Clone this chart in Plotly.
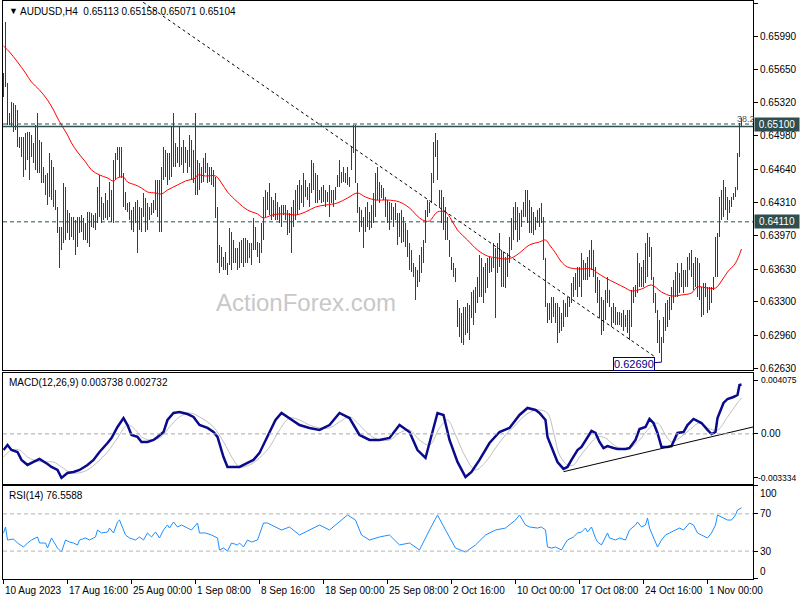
import plotly.graph_objects as go

# ---------------- data ----------------
bar_high = [
0.6562,0.6613,0.6552,0.6521,0.6532,0.6531,0.6529,0.6524,0.6497,0.6497,
0.6497,0.6501,0.6502,0.6502,0.6499,0.6491,0.6509,0.6521,0.6494,0.6492,
0.6467,0.6458,0.6460,0.6481,0.6474,0.6467,0.6443,0.6426,0.6406,0.6406,
0.6450,0.6446,0.6423,0.6420,0.6416,0.6416,0.6413,0.6416,0.6416,0.6418,
0.6415,0.6410,0.6421,0.6421,0.6420,0.6418,0.6420,0.6446,0.6458,0.6436,
0.6430,0.6440,0.6433,0.6451,0.6443,0.6474,0.6481,0.6487,0.6487,0.6487,
0.6460,0.6441,0.6430,0.6431,0.6423,0.6426,0.6431,0.6433,0.6426,0.6425,
0.6440,0.6435,0.6430,0.6426,0.6430,0.6433,0.6453,0.6453,0.6453,0.6467,
0.6487,0.6484,0.6481,0.6481,0.6507,0.6521,0.6491,0.6487,0.6507,0.6487,
0.6494,0.6487,0.6484,0.6499,0.6494,0.6484,0.6521,0.6474,0.6471,0.6467,
0.6476,0.6481,0.6471,0.6466,0.6466,0.6463,0.6456,0.6426,0.6388,0.6386,
0.6375,0.6380,0.6369,0.6405,0.6401,0.6393,0.6385,0.6385,0.6391,0.6393,
0.6395,0.6395,0.6393,0.6390,0.6390,0.6415,0.6406,0.6391,0.6390,0.6410,
0.6436,0.6443,0.6441,0.6450,0.6436,0.6433,0.6440,0.6431,0.6426,0.6428,
0.6428,0.6428,0.6423,0.6420,0.6426,0.6433,0.6443,0.6448,0.6453,0.6448,
0.6460,0.6453,0.6446,0.6450,0.6474,0.6471,0.6460,0.6458,0.6443,0.6446,
0.6448,0.6443,0.6441,0.6448,0.6443,0.6443,0.6446,0.6458,0.6474,0.6461,
0.6466,0.6460,0.6466,0.6456,0.6487,0.6509,0.6509,0.6450,0.6426,0.6423,
0.6416,0.6426,0.6431,0.6421,0.6428,0.6440,0.6460,0.6466,0.6451,0.6448,
0.6445,0.6436,0.6433,0.6431,0.6430,0.6426,0.6430,0.6420,0.6420,0.6423,
0.6416,0.6410,0.6403,0.6390,0.6382,0.6369,0.6365,0.6362,0.6377,0.6386,
0.6393,0.6423,0.6433,0.6431,0.6460,0.6492,0.6501,0.6494,0.6443,0.6443,
0.6436,0.6426,0.6416,0.6393,0.6375,0.6369,0.6364,0.6332,0.6324,0.6319,
0.6325,0.6325,0.6329,0.6327,0.6340,0.6342,0.6345,0.6355,0.6377,0.6374,
0.6365,0.6369,0.6374,0.6375,0.6374,0.6390,0.6385,0.6390,0.6400,0.6382,
0.6380,0.6375,0.6379,0.6396,0.6415,0.6426,0.6431,0.6426,0.6420,0.6423,
0.6431,0.6443,0.6443,0.6433,0.6426,0.6421,0.6416,0.6423,0.6425,0.6430,
0.6416,0.6374,0.6329,0.6329,0.6335,0.6335,0.6329,0.6329,0.6325,0.6319,
0.6332,0.6329,0.6335,0.6335,0.6349,0.6355,0.6359,0.6365,0.6365,0.6379,
0.6372,0.6369,0.6375,0.6382,0.6393,0.6382,0.6365,0.6355,0.6352,0.6335,
0.6332,0.6342,0.6355,0.6342,0.6325,0.6329,0.6325,0.6320,0.6320,0.6319,
0.6322,0.6317,0.6322,0.6322,0.6342,0.6345,0.6347,0.6379,0.6369,0.6365,
0.6372,0.6390,0.6400,0.6396,0.6386,0.6355,0.6339,0.6322,0.6312,0.6294,
0.6315,0.6329,0.6332,0.6335,0.6345,0.6352,0.6360,0.6369,0.6359,0.6369,
0.6362,0.6362,0.6375,0.6379,0.6382,0.6369,0.6375,0.6374,0.6369,0.6345,
0.6349,0.6349,0.6345,0.6345,0.6345,0.6355,0.6396,0.6400,0.6436,0.6443,
0.6453,0.6446,0.6436,0.6433,0.6436,0.6440,0.6446,0.6481,0.6511,0.6516,
]
bar_low = [
0.6537,0.6547,0.6509,0.6509,0.6507,0.6502,0.6504,0.6487,0.6486,0.6477,
0.6456,0.6463,0.6474,0.6453,0.6477,0.6471,0.6463,0.6460,0.6460,0.6450,
0.6450,0.6438,0.6428,0.6436,0.6433,0.6426,0.6423,0.6400,0.6364,0.6382,
0.6390,0.6393,0.6400,0.6393,0.6396,0.6393,0.6377,0.6386,0.6400,0.6401,
0.6393,0.6393,0.6390,0.6386,0.6406,0.6405,0.6403,0.6410,0.6416,0.6410,
0.6413,0.6415,0.6413,0.6416,0.6411,0.6410,0.6453,0.6474,0.6456,0.6455,
0.6426,0.6423,0.6421,0.6413,0.6403,0.6401,0.6410,0.6379,0.6403,0.6401,
0.6416,0.6401,0.6403,0.6413,0.6418,0.6420,0.6423,0.6416,0.6401,0.6401,
0.6453,0.6456,0.6448,0.6453,0.6456,0.6467,0.6467,0.6471,0.6467,0.6469,
0.6460,0.6471,0.6460,0.6467,0.6453,0.6450,0.6438,0.6438,0.6443,0.6450,
0.6451,0.6460,0.6450,0.6451,0.6448,0.6446,0.6415,0.6369,0.6359,0.6365,
0.6362,0.6362,0.6357,0.6367,0.6362,0.6369,0.6369,0.6362,0.6364,0.6369,
0.6365,0.6369,0.6369,0.6374,0.6367,0.6382,0.6382,0.6375,0.6369,0.6379,
0.6393,0.6416,0.6423,0.6418,0.6413,0.6416,0.6413,0.6413,0.6410,0.6406,
0.6418,0.6413,0.6398,0.6400,0.6379,0.6406,0.6413,0.6418,0.6423,0.6430,
0.6426,0.6436,0.6433,0.6426,0.6440,0.6443,0.6430,0.6430,0.6433,0.6430,
0.6431,0.6426,0.6431,0.6416,0.6430,0.6426,0.6433,0.6446,0.6446,0.6450,
0.6451,0.6450,0.6448,0.6446,0.6463,0.6481,0.6450,0.6420,0.6401,0.6406,
0.6385,0.6401,0.6406,0.6403,0.6405,0.6410,0.6416,0.6433,0.6430,0.6435,
0.6433,0.6416,0.6410,0.6403,0.6413,0.6406,0.6413,0.6388,0.6396,0.6390,
0.6391,0.6386,0.6375,0.6362,0.6360,0.6355,0.6332,0.6345,0.6350,0.6359,
0.6369,0.6390,0.6416,0.6420,0.6430,0.6450,0.6477,0.6453,0.6426,0.6410,
0.6403,0.6393,0.6393,0.6375,0.6362,0.6355,0.6350,0.6305,0.6294,0.6288,
0.6286,0.6296,0.6299,0.6291,0.6314,0.6307,0.6319,0.6329,0.6335,0.6335,
0.6329,0.6339,0.6344,0.6359,0.6360,0.6364,0.6314,0.6359,0.6365,0.6345,
0.6345,0.6344,0.6355,0.6369,0.6382,0.6393,0.6403,0.6391,0.6393,0.6406,
0.6416,0.6416,0.6410,0.6400,0.6400,0.6398,0.6403,0.6410,0.6406,0.6410,
0.6372,0.6325,0.6309,0.6312,0.6309,0.6315,0.6309,0.6288,0.6298,0.6301,
0.6305,0.6315,0.6315,0.6325,0.6329,0.6335,0.6342,0.6335,0.6345,0.6335,
0.6352,0.6352,0.6352,0.6355,0.6362,0.6355,0.6339,0.6329,0.6314,0.6296,
0.6301,0.6312,0.6329,0.6325,0.6305,0.6309,0.6307,0.6307,0.6307,0.6305,
0.6301,0.6305,0.6298,0.6291,0.6305,0.6329,0.6335,0.6339,0.6345,0.6345,
0.6345,0.6349,0.6355,0.6375,0.6352,0.6329,0.6319,0.6288,0.6278,0.6269,
0.6288,0.6301,0.6305,0.6312,0.6322,0.6329,0.6335,0.6335,0.6339,0.6345,
0.6339,0.6345,0.6345,0.6362,0.6355,0.6342,0.6345,0.6335,0.6332,0.6315,
0.6317,0.6335,0.6319,0.6322,0.6329,0.6342,0.6355,0.6355,0.6396,0.6413,
0.6416,0.6423,0.6413,0.6420,0.6426,0.6433,0.6436,0.6443,0.6477,0.6507,
]

ma_idx = [0,3,7,11,14,18,22,25,27,29,32,34,37,41,44,48,52,55,57,60,62,66,69,72,76,79,82,87,91,96,
          97,101,106,109,112,117,122,127,130,133,137,142,146,151,156,161,167,172,177,181,186,192,198,203,208,
          211,213,217,221,224,227,232,237,242,247,252,255,258,263,268,271,273,276,279,282,287,294,297,301,306,
          311,314,319,324,329,334,339,344,347,352,356,359,362,366,369]
ma_val = [0.65890,0.65829,0.65728,0.65616,0.65525,0.65444,0.65343,0.65242,0.65161,0.65090,0.64989,0.64908,
          0.64817,0.64716,0.64635,0.64584,0.64554,0.64523,0.64554,0.64564,0.64513,0.64483,0.64452,0.64412,
          0.64402,0.64392,0.64432,0.64483,0.64523,0.64554,0.64584,0.64574,0.64574,0.64503,0.64412,0.64311,
          0.64230,0.64189,0.64149,0.64169,0.64189,0.64189,0.64179,0.64210,0.64260,0.64280,0.64301,0.64351,
          0.64402,0.64361,0.64331,0.64331,0.64311,0.64250,0.64149,0.64118,0.64118,0.64210,0.64210,0.64129,
          0.64027,0.63926,0.63825,0.63764,0.63744,0.63734,0.63754,0.63795,0.63876,0.63906,0.63926,0.63876,
          0.63795,0.63704,0.63653,0.63633,0.63633,0.63592,0.63542,0.63491,0.63440,0.63410,0.63430,0.63471,
          0.63400,0.63360,0.63370,0.63390,0.63451,0.63440,0.63440,0.63511,0.63602,0.63693,0.63835]

macd_idx = [0,2,4,7,9,12,15,18,22,24,27,29,32,35,38,42,45,48,52,54,57,60,62,64,67,69,72,75,77,80,
            82,85,88,92,95,98,102,105,107,110,112,115,118,122,125,128,132,133,136,139,143,148,153,158,163,
            168,173,178,183,188,193,198,203,207,211,214,217,220,223,227,231,234,238,243,248,253,258,262,266,268,
            271,272,275,277,280,282,284,287,289,292,294,296,298,300,302,305,307,311,313,316,318,321,323,325,327,
            329,332,334,336,337,340,342,345,347,349,352,354,356,357,360,362,365,367,368,369]
macd_val = [-0.00122,-0.00084,-0.00122,-0.00137,-0.00197,-0.00235,-0.00212,-0.00190,-0.00228,-0.00250,
            -0.00273,-0.00333,-0.00296,-0.00288,-0.00273,-0.00235,-0.00197,-0.00137,-0.00069,-0.00031,
            0.00052,0.00120,0.00067,-0.00008,-0.00023,-0.00061,-0.00061,-0.00046,-0.00023,0.00014,
            0.00105,0.00158,0.00166,0.00150,0.00128,0.00067,0.00045,0.00014,-0.00023,-0.00175,
            -0.00250,-0.00250,-0.00250,-0.00220,-0.00197,-0.00144,-0.00023,0.00014,0.00105,0.00158,
            0.00120,0.00067,0.00045,0.00030,0.00067,0.00158,0.00120,-0.00008,-0.00046,-0.00046,
            -0.00031,0.00067,0.00014,-0.00122,-0.00182,-0.00008,0.00158,0.00143,-0.00046,-0.00212,
            -0.00326,-0.00288,-0.00197,-0.00069,0.00014,0.00045,0.00143,0.00196,0.00181,0.00158,
            0.00105,-0.00023,-0.00144,-0.00213,-0.00265,-0.00250,-0.00197,-0.00122,-0.00099,-0.00031,
            0.00022,0.00007,-0.00061,-0.00107,-0.00092,-0.00107,-0.00114,-0.00114,-0.00107,-0.00046,
            0.00037,0.00052,0.00113,0.00082,0.00007,-0.00099,-0.00099,-0.00092,-0.00031,0.00007,
            0.00014,0.00067,0.00113,0.00098,0.00082,0.00030,-0.00001,0.00014,0.00120,0.00234,
            0.00264,0.00279,0.00294,0.00370,0.003738]

signal_idx = [0,4,8,12,15,20,25,29,33,37,42,47,52,57,62,66,69,73,78,83,88,93,98,105,110,115,118,123,128,133,
              138,143,148,153,158,163,168,173,178,183,188,193,198,203,208,213,218,222,226,231,236,241,246,251,256,
              261,266,268,272,275,278,282,285,288,292,297,301,304,308,313,318,323,327,331,334,338,343,348,352,357,
              362,367,369]
signal_val = [-0.00175,-0.00122,-0.00122,-0.00175,-0.00197,-0.00213,-0.00213,-0.00250,-0.00288,-0.00296,
              -0.00273,-0.00213,-0.00137,-0.00031,0.00067,0.00030,-0.00023,-0.00046,-0.00031,0.00052,
              0.00128,0.00158,0.00128,0.00052,-0.00061,-0.00197,-0.00250,-0.00235,-0.00182,-0.00099,
              0.00029,0.00120,0.00105,0.00067,0.00045,0.00045,0.00090,0.00128,0.00067,-0.00008,
              -0.00046,-0.00046,0.00007,0.00030,-0.00046,-0.00084,0.00045,0.00105,-0.00008,-0.00175,
              -0.00273,-0.00213,-0.00107,-0.00008,0.00067,0.00143,0.00181,0.00181,0.00158,0.00014,
              -0.00160,-0.00235,-0.00235,-0.00175,-0.00099,-0.00023,-0.00031,-0.00069,-0.00107,-0.00107,
              -0.00046,0.00045,0.00082,-0.00008,-0.00061,-0.00031,0.00029,0.00082,0.00045,0.00029,
              0.00128,0.00234,0.002732]

rsi_idx = [0,1,2,5,7,10,12,14,17,18,21,22,24,26,27,29,31,33,35,37,38,41,43,46,47,49,52,53,55,57,
           58,59,61,63,66,68,70,72,74,76,78,80,82,83,85,87,89,92,94,97,98,101,104,107,108,110,112,114,117,118,
           120,122,124,127,128,130,132,136,139,143,148,153,158,163,168,172,176,179,183,188,193,198,203,208,213,
           217,221,226,231,236,241,246,251,256,258,261,263,267,269,271,272,274,276,277,279,281,282,285,287,289,
           291,292,294,296,297,299,302,303,306,308,311,313,316,317,319,321,322,323,326,327,329,331,333,336,338,
           340,342,343,345,347,349,352,354,356,357,359,362,364,366,367,369]
rsi_val = [49.5,55.9,41.9,43.0,38.7,34.4,38.7,41.9,45.2,38.7,38.7,33.3,44.1,36.6,33.3,29.0,41.9,39.8,38.7,36.6,
           41.9,44.1,41.9,45.2,52.7,49.5,50.5,54.8,49.5,61.3,63.4,58.1,47.3,44.1,41.9,45.2,41.9,49.5,45.2,50.5,
           44.1,52.7,58.1,54.8,61.3,55.9,58.1,54.8,52.7,60.2,49.5,49.5,47.3,44.1,31.2,33.3,30.1,38.7,36.6,38.7,
           34.4,41.9,39.8,41.9,47.3,60.2,60.2,55.9,52.7,55.9,47.3,52.7,58.1,52.7,61.3,68.8,63.4,47.3,41.9,45.2,
           47.3,36.6,38.7,31.2,52.7,68.8,52.7,33.3,29.0,36.6,47.3,52.7,54.8,63.4,68.8,58.1,55.9,54.8,55.9,52.7,
           34.4,33.3,34.4,33.3,31.2,38.7,41.9,45.2,49.5,50.5,54.8,50.5,55.9,44.1,39.8,36.6,49.5,44.1,41.9,44.1,
           41.9,52.7,58.1,61.3,55.9,58.1,65.6,54.8,39.8,34.4,41.9,47.3,49.5,52.7,54.8,52.7,58.1,60.2,58.1,49.5,
           47.3,44.1,49.5,58.1,68.8,66.7,63.4,63.4,68.8,74.2,76.56]

xtick_idx = [0, 32, 64, 96, 128, 160, 192, 224, 256, 288, 320, 352]
xtick_labels = ["10 Aug 2023", "17 Aug 16:00", "25 Aug 00:00", "1 Sep 08:00", "8 Sep 16:00",
                "18 Sep 00:00", "25 Sep 08:00", "2 Oct 16:00", "10 Oct 00:00", "17 Oct 08:00",
                "24 Oct 16:00", "1 Nov 00:00"]
price_ticks = [0.6263, 0.6296, 0.6330, 0.6363, 0.6397, 0.6431, 0.6464, 0.6498, 0.6532, 0.6565, 0.6599, 0.6632]
macd_ticks = [-0.003334, 0.0, 0.004075]
macd_tick_text = ["-0.003334", "0.00", "0.004075"]
rsi_levels = [30, 70]

resistance = 0.6510
resistance_line2 = 0.65075
support = 0.6411
low_price = 0.6269
low_index = 329
trend_main_x = [60, 326]
trend_main_y = [0.6647, 0.6274]
trend_macd_x = [280, 375]
trend_macd_y = [-0.00286, 0.00053]

title_text = "AUDUSD,H4  0.65113 0.65158 0.65071 0.65104"
macd_text = "MACD(12,26,9) 0.003738 0.002732"
rsi_text = "RSI(14) 76.5588"

# ---------------- figure ----------------
FONT = "Liberation Sans, Arial, sans-serif"
BAR_COLOR = "#134763"
n = len(bar_high)
bar_idx = list(range(n))
bar_span = [h - l for h, l in zip(bar_high, bar_low)]

fig = go.Figure()
fig.add_trace(go.Bar(x=bar_idx, y=bar_span, base=bar_low, width=0.42,
                     marker=dict(color=BAR_COLOR, line=dict(width=0)),
                     xaxis="x", yaxis="y", hoverinfo="skip"))
fig.add_trace(go.Scatter(x=ma_idx, y=ma_val, mode="lines", line=dict(color="#ff0000", width=1, shape="spline"),
                         xaxis="x", yaxis="y", hoverinfo="skip"))
fig.add_trace(go.Scatter(x=trend_main_x, y=trend_main_y, mode="lines",
                         line=dict(color="black", width=1, dash="3px,3px"),
                         xaxis="x", yaxis="y", hoverinfo="skip"))

fig.add_trace(go.Scatter(x=signal_idx, y=signal_val, mode="lines", line=dict(color="#c0c0c0", width=1, shape="spline"),
                         xaxis="x2", yaxis="y2", hoverinfo="skip"))
fig.add_trace(go.Scatter(x=macd_idx, y=macd_val, mode="lines", line=dict(color="#0a0a8c", width=2.5),
                         xaxis="x2", yaxis="y2", hoverinfo="skip"))
fig.add_trace(go.Scatter(x=trend_macd_x, y=trend_macd_y, mode="lines", line=dict(color="black", width=1),
                         xaxis="x2", yaxis="y2", hoverinfo="skip"))

fig.add_trace(go.Scatter(x=rsi_idx, y=rsi_val, mode="lines", line=dict(color="#1e90ff", width=1),
                         xaxis="x3", yaxis="y3", hoverinfo="skip"))

xr = [-0.25, 374.75]
axis_common = dict(showline=True, mirror=True, linecolor="black", linewidth=1, showgrid=False, zeroline=False,
                   automargin=False)
TF = dict(size=10, color="black")
fig.update_layout(
    width=800, height=600,
    margin=dict(l=3, r=47, t=1, b=21, autoexpand=False),
    paper_bgcolor="white", plot_bgcolor="white",
    showlegend=False, hovermode=False, bargap=0,
    font=dict(family=FONT, size=10, color="black"),
    xaxis=dict(domain=[0, 1], range=xr, anchor="y", showticklabels=False, ticks="", **axis_common),
    xaxis2=dict(domain=[0, 1], range=xr, anchor="y2", matches="x", showticklabels=False, ticks="", **axis_common),
    xaxis3=dict(domain=[0, 1], range=xr, anchor="y3", matches="x", tickvals=xtick_idx,
                ticktext=[""] * len(xtick_idx), ticks="outside", ticklen=4, tickcolor="black", **axis_common),
    yaxis=dict(domain=[0.3616, 1], range=[0.626105, 0.66345], side="right", anchor="x",
               tickvals=price_ticks, ticktext=[f"{v:.5f}" for v in price_ticks],
               ticks="outside", ticklen=4, tickcolor="black", tickfont=TF, **axis_common),
    yaxis2=dict(domain=[0.1644, 0.3564], range=[-0.003788, 0.004604], side="right", anchor="x2",
                tickvals=macd_ticks, ticktext=[""] * len(macd_ticks),
                ticks="outside", ticklen=4, tickcolor="black", tickfont=TF, **axis_common),
    yaxis3=dict(domain=[0, 0.1609], range=[0, 100], side="right", anchor="x3",
                tickvals=[0, 30, 70, 100], ticktext=["", "30", "70", ""],
                ticks="outside", ticklen=4, tickcolor="black", tickfont=TF, **axis_common),
)

# horizontal levels
fig.add_shape(type="line", xref="x domain", yref="y", x0=0, x1=1, y0=resistance, y1=resistance,
              line=dict(color="#2f4f4f", width=1, dash="4px,3px"))
fig.add_shape(type="line", xref="x domain", yref="y", x0=0, x1=1, y0=resistance_line2, y1=resistance_line2,
              line=dict(color="#2f4f4f", width=1.5))
fig.add_shape(type="line", xref="x domain", yref="y", x0=0, x1=1, y0=support, y1=support,
              line=dict(color="#2f4f4f", width=1, dash="4px,3px"))
fig.add_shape(type="line", xref="x2 domain", yref="y2", x0=0, x1=1, y0=0, y1=0,
              line=dict(color="#a8a8a8", width=1, dash="4px,3px"))
for lv in rsi_levels:
    fig.add_shape(type="line", xref="x3 domain", yref="y3", x0=0, x1=1, y0=lv, y1=lv,
                  line=dict(color="#b4b4b4", width=1, dash="4px,3px"))

ann = []
ann.append(dict(xref="paper", yref="paper", x=0, y=1, xanchor="left", yanchor="top", xshift=4, yshift=-3,
                text="▼", showarrow=False, font=dict(size=9, color="black")))
ann.append(dict(xref="paper", yref="paper", x=0, y=1, xanchor="left", yanchor="top", xshift=15, yshift=-3,
                text=title_text, showarrow=False, font=dict(size=10, color="black")))
ann.append(dict(xref="paper", yref="y2 domain", x=0, y=1, xanchor="left", yanchor="top", xshift=4, yshift=-2,
                text=macd_text, showarrow=False, font=dict(size=10, color="black")))
ann.append(dict(xref="paper", yref="y3 domain", x=0, y=1, xanchor="left", yanchor="top", xshift=4, yshift=-2,
                text=rsi_text, showarrow=False, font=dict(size=10, color="black")))
ann.append(dict(xref="x", yref="y domain", x=151, y=0.141, text="ActionForex.com", showarrow=False,
                font=dict(size=24, color="#c8c8c8")))
ann.append(dict(xref="x", yref="y", x=low_index, y=low_price, text="0.62690", showarrow=True,
                arrowhead=0, arrowwidth=1, arrowcolor="#000080", ax=-28, ay=2,
                bordercolor="#000080", borderwidth=1, borderpad=0, bgcolor="white",
                font=dict(size=11, color="#000080")))
ann.append(dict(xref="x", yref="y", x=366, y=resistance, xanchor="left", yanchor="bottom", xshift=-1,
                text="38.2", showarrow=False, font=dict(size=9, color="#555555"), yshift=-2))
for lv in [resistance, support]:
    ann.append(dict(xref="paper", yref="y", x=1, y=lv, xanchor="left", yanchor="middle", xshift=1,
                    text=f"{lv:.5f}", showarrow=False, bgcolor="#2f4f4f", borderpad=1, width=42,
                    font=dict(size=10, color="white")))
# MACD scale labels (kept inside the page width)
for v, t in zip(macd_ticks, macd_tick_text):
    if v == 0:
        ann.append(dict(xref="paper", yref="y2", x=1, y=v, xanchor="left", yanchor="middle", xshift=6,
                        text=t, showarrow=False, font=dict(size=10, color="black")))
    else:
        ann.append(dict(xref="paper", yref="y2", x=1, y=v, xanchor="right", yanchor="middle", xshift=46,
                        text=t, showarrow=False, font=dict(size=8.5, color="black")))
ann.append(dict(xref="paper", yref="y3", x=1, y=100, xanchor="left", yanchor="top", xshift=5,
                text="100", showarrow=False, font=dict(size=10, color="black")))
ann.append(dict(xref="paper", yref="y3", x=1, y=0, xanchor="left", yanchor="bottom", xshift=5,
                text="0", showarrow=False, font=dict(size=10, color="black")))
for xi, lab in zip(xtick_idx, xtick_labels):
    ann.append(dict(xref="x3", yref="paper", x=xi, y=0, xanchor="left", yanchor="top", yshift=-4, xshift=-1,
                    text=lab, showarrow=False, font=dict(size=10, color="black")))
fig.update_layout(annotations=ann)

fig.write_html("out.html", config={"displayModeBar": False},
               post_script="document.body.style.margin='0px';")
